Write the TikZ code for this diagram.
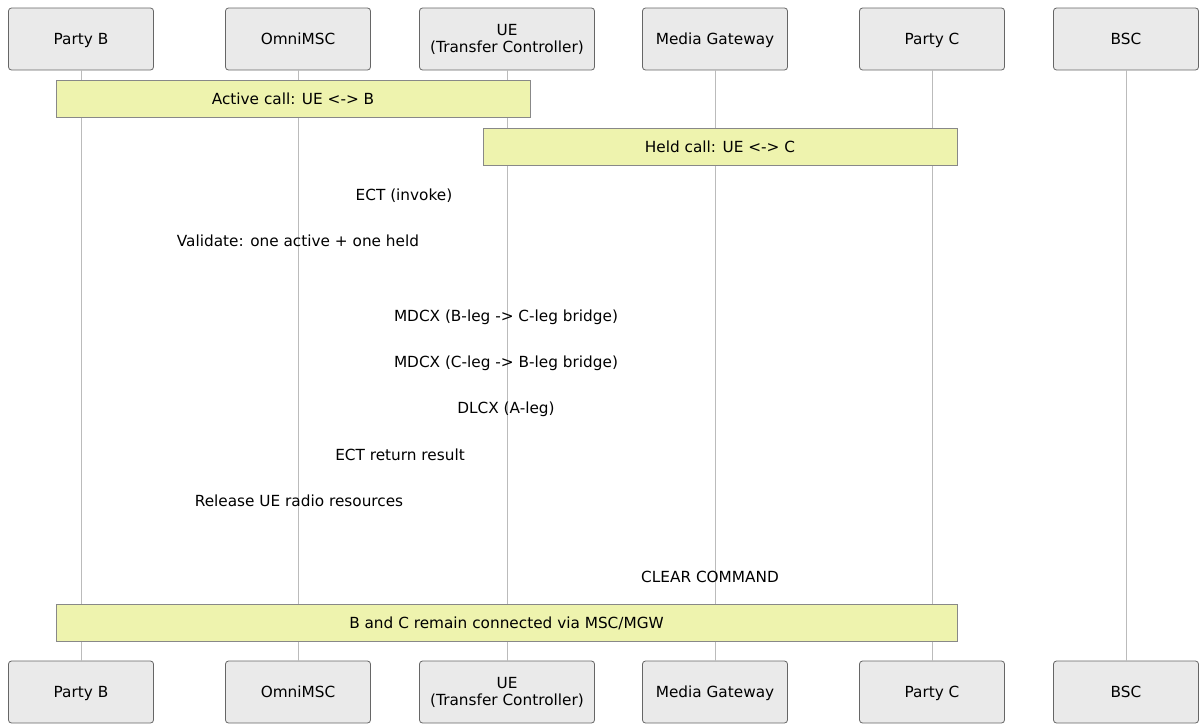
\documentclass[tikz,border=0pt]{standalone}
\usepackage{fontspec}
\setmainfont{DejaVu Sans}
\definecolor{actfill}{HTML}{EAEAEA}
\definecolor{actdraw}{HTML}{666666}
\definecolor{notefill}{HTML}{EEF3AE}
\definecolor{notedraw}{HTML}{888888}
\definecolor{lifeline}{HTML}{BBBBBB}
\begin{document}
\begin{tikzpicture}[x=1pt,y=-1pt,
  actor/.style={draw=actdraw,fill=actfill,rounded corners=3pt,minimum width=145pt,minimum height=62pt,inner sep=0pt,align=center,font=\fontsize{15.3}{17}\selectfont,line width=0.8pt,text height=11pt,text depth=0pt},
  wideactor/.style={actor,minimum width=175pt,text height=,text depth=},
  note/.style={draw=notedraw,fill=notefill,minimum height=37pt,inner sep=0pt,font=\fontsize{15.3}{17}\selectfont,line width=0.8pt,text height=11pt,text depth=0pt},
  msg/.style={font=\fontsize{15.3}{17}\selectfont,inner sep=0pt,text height=11pt,text depth=0pt},
  life/.style={draw=lifeline,line width=1pt}]
\useasboundingbox (0,0) rectangle (1199,726);
% top actors
\node[actor] (bT) at (81,39) {Party B};
\node[actor] (mT) at (298,39) {OmniMSC};
\node[wideactor] (uT) at (507,39) {UE\\(Transfer Controller)};
\node[actor] (gT) at (715,39) {Media Gateway};
\node[actor] (cT) at (932,39) {Party C};
\node[actor] (sT) at (1126,39) {BSC};
% bottom actors
\node[actor] (bB) at (81,692) {Party B};
\node[actor] (mB) at (298,692) {OmniMSC};
\node[wideactor] (uB) at (507,692) {UE\\(Transfer Controller)};
\node[actor] (gB) at (715,692) {Media Gateway};
\node[actor] (cB) at (932,692) {Party C};
\node[actor] (sB) at (1126,692) {BSC};
% lifelines
\foreach \n in {b,m,u,g,c,s} \draw[life] (\n T.south) -- (\n B.north);
% notes
\node[note,minimum width=474pt] (n1) at (293,98.5) {Active call: UE <-> B};
\node[note,minimum width=474pt] (n2) at (720,146.5) {Held call: UE <-> C};
\node[note,minimum width=901pt] (n3) at (506.5,622.5) {B and C remain connected via MSC/MGW};
% messages
\node[msg] (m1) at (404,195) {ECT (invoke)};
\node[msg] (m2) at (298,241) {Validate: one active + one held};
\node[msg] (m3) at (506,316) {MDCX (B-leg -> C-leg bridge)};
\node[msg] (m4) at (506,362) {MDCX (C-leg -> B-leg bridge)};
\node[msg] (m5) at (506,408) {DLCX (A-leg)};
\node[msg] (m6) at (400,455) {ECT return result};
\node[msg] (m7) at (299,501) {Release UE radio resources};
\node[msg] (m8) at (710,577) {CLEAR COMMAND};
\end{tikzpicture}
\end{document}
